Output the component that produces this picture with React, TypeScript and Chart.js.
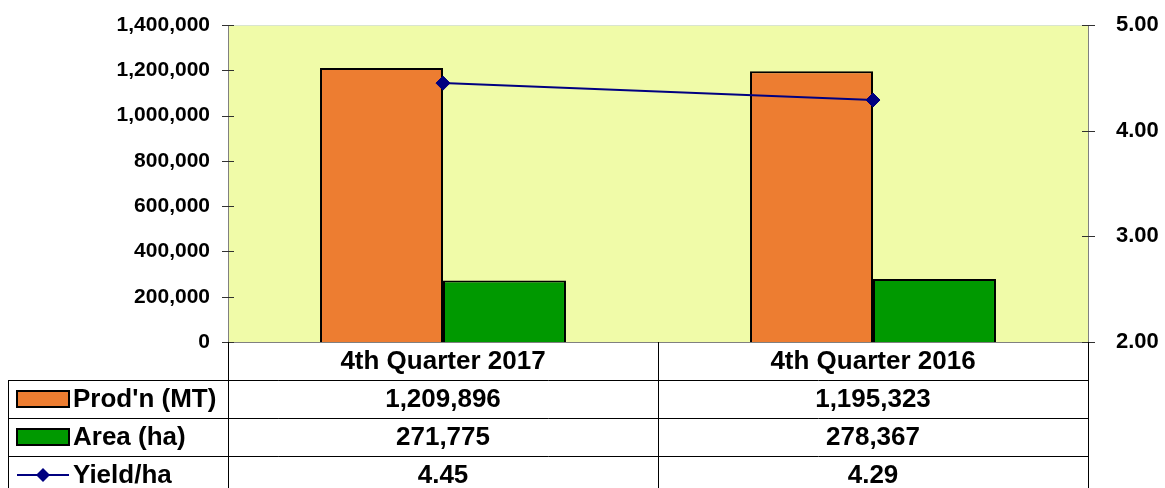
import React, { useEffect, useRef } from 'react';
import { Chart, registerables } from 'chart.js';

Chart.register(...registerables);

const categories = ['4th Quarter 2017', '4th Quarter 2016'];
const prodValues = [1209896, 1195323];
const areaValues = [271775, 278367];
const yieldValues = [4.45, 4.29];
const seriesLabels = ["Prod'n (MT)", 'Area (ha)', 'Yield/ha'];

const leftMin = 0;
const leftMax = 1400000;
const leftStep = 200000;
const rightMin = 2;
const rightMax = 5;
const rightStep = 1;

const FONT = '"Liberation Sans", Arial, sans-serif';
const PLOT_BG = '#F0FBA8';
const ORANGE = '#ED7D31';
const GREEN = '#009900';
const NAVY = '#000080';

const fmtInt = (v: number) => v.toLocaleString('en-US');
const fmtYield = (v: number) => v.toFixed(2);

const framePlugin = {
  id: 'excelFrame',
  beforeDraw(chart: any) {
    const { ctx, chartArea: a } = chart;
    ctx.save();
    ctx.fillStyle = PLOT_BG;
    ctx.fillRect(a.left, a.top, a.right - a.left, a.bottom - a.top);
    ctx.strokeStyle = '#D9E5CF';
    ctx.lineWidth = 1;
    ctx.beginPath();
    ctx.moveTo(a.left, Math.round(a.top) + 0.5);
    ctx.lineTo(a.right, Math.round(a.top) + 0.5);
    ctx.stroke();
    ctx.restore();
  },
  beforeDatasetsDraw(chart: any) {
    const { ctx, chartArea: a, scales } = chart;
    const y = scales.y;
    const y1 = scales.y1;
    ctx.save();
    ctx.lineWidth = 1;
    ctx.strokeStyle = '#808080';
    ctx.beginPath();
    ctx.moveTo(Math.round(a.left) + 0.5, a.top);
    ctx.lineTo(Math.round(a.left) + 0.5, a.bottom);
    ctx.moveTo(Math.round(a.right) + 0.5, a.top);
    ctx.lineTo(Math.round(a.right) + 0.5, a.bottom);
    ctx.moveTo(a.left, Math.round(a.bottom) + 0.5);
    ctx.lineTo(a.right, Math.round(a.bottom) + 0.5);
    ctx.stroke();
    ctx.strokeStyle = '#303030';
    ctx.beginPath();
    y.ticks.forEach((_t: any, i: number) => {
      const py = Math.round(y.getPixelForTick(i)) + 0.5;
      ctx.moveTo(a.left - 6, py);
      ctx.lineTo(a.left + 6, py);
    });
    y1.ticks.forEach((_t: any, i: number) => {
      const py = Math.round(y1.getPixelForTick(i)) + 0.5;
      ctx.moveTo(a.right - 6, py);
      ctx.lineTo(a.right + 7, py);
    });
    ctx.stroke();
    ctx.restore();
  },
  afterDraw(chart: any) {
    const { ctx, chartArea: a, scales } = chart;
    const x = scales.x;
    const tableLeft = 8;
    const rowH = 38;
    const top = Math.round(a.bottom);
    const centers = categories.map((_c, i) => x.getPixelForValue(i));
    const colBounds = [a.left, (centers[0] + centers[1]) / 2, a.right].map((v) => Math.round(v) + 0.5);
    const rowsY = [top, top + rowH, top + rowH * 2, top + rowH * 3, top + rowH * 4];

    ctx.save();
    ctx.strokeStyle = '#000000';
    ctx.lineWidth = 1;
    ctx.beginPath();
    colBounds.forEach((cx) => {
      ctx.moveTo(cx, top);
      ctx.lineTo(cx, chart.height);
    });
    ctx.moveTo(tableLeft + 0.5, rowsY[1]);
    ctx.lineTo(tableLeft + 0.5, chart.height);
    for (let r = 1; r < rowsY.length; r++) {
      ctx.moveTo(tableLeft, rowsY[r] + 0.5);
      ctx.lineTo(colBounds[2], rowsY[r] + 0.5);
    }
    ctx.stroke();

    ctx.fillStyle = '#000000';
    ctx.textAlign = 'center';
    ctx.textBaseline = 'middle';
    ctx.font = `bold 26px ${FONT}`;
    categories.forEach((c, i) => {
      ctx.fillText(c, centers[i], top + rowH / 2 + 1);
    });
    const rows = [prodValues.map(fmtInt), areaValues.map(fmtInt), yieldValues.map(fmtYield)];
    rows.forEach((vals, r) => {
      const cy = rowsY[r + 1] + rowH / 2 + 1;
      vals.forEach((v, i) => ctx.fillText(v, centers[i], cy));
    });

    const keyL = 17;
    const keyR = 69;
    seriesLabels.forEach((lbl, r) => {
      const cy = rowsY[r + 1] + rowH / 2;
      if (r < 2) {
        ctx.fillStyle = r === 0 ? ORANGE : GREEN;
        ctx.fillRect(keyL, cy - 8, keyR - keyL, 16);
        ctx.strokeStyle = '#000000';
        ctx.lineWidth = 2;
        ctx.strokeRect(keyL, cy - 8, keyR - keyL, 16);
      } else {
        ctx.strokeStyle = NAVY;
        ctx.lineWidth = 2;
        ctx.beginPath();
        ctx.moveTo(keyL, cy);
        ctx.lineTo(keyR, cy);
        ctx.stroke();
        ctx.fillStyle = NAVY;
        const mx = (keyL + keyR) / 2;
        ctx.beginPath();
        ctx.moveTo(mx, cy - 7);
        ctx.lineTo(mx + 7, cy);
        ctx.lineTo(mx, cy + 7);
        ctx.lineTo(mx - 7, cy);
        ctx.closePath();
        ctx.fill();
      }
      ctx.fillStyle = '#000000';
      ctx.textAlign = 'left';
      ctx.fillText(lbl, keyR + 4, cy + 1);
    });
    ctx.restore();
  },
};

export default function App() {
  const canvasRef = useRef<HTMLCanvasElement | null>(null);

  useEffect(() => {
    const canvas = canvasRef.current;
    if (!canvas) return;
    const chart = new Chart(canvas, {
      type: 'bar',
      data: {
        labels: categories,
        datasets: [
          {
            type: 'line',
            label: seriesLabels[2],
            data: yieldValues,
            yAxisID: 'y1',
            borderColor: NAVY,
            backgroundColor: NAVY,
            borderWidth: 2,
            pointStyle: 'rectRot',
            pointRadius: 7,
            pointBackgroundColor: NAVY,
            pointBorderColor: NAVY,
            pointBorderWidth: 1,
            order: 0,
          } as any,
          {
            type: 'bar',
            label: seriesLabels[0],
            data: prodValues,
            yAxisID: 'y',
            backgroundColor: ORANGE,
            borderColor: '#000000',
            borderWidth: 2,
            barPercentage: 1,
            categoryPercentage: 0.572,
            order: 1,
          },
          {
            type: 'bar',
            label: seriesLabels[1],
            data: areaValues,
            yAxisID: 'y',
            backgroundColor: GREEN,
            borderColor: '#000000',
            borderWidth: 2,
            barPercentage: 1,
            categoryPercentage: 0.572,
            order: 1,
          },
        ],
      },
      options: {
        responsive: false,
        animation: false,
        layout: { padding: { top: 25, bottom: 146, left: 0, right: 0 } },
        plugins: {
          legend: { display: false },
          tooltip: { enabled: false },
        },
        scales: {
          x: { display: false },
          y: {
            position: 'left',
            min: leftMin,
            max: leftMax,
            grid: { display: false, drawTicks: false },
            border: { display: false },
            ticks: {
              stepSize: leftStep,
              padding: 18,
              color: '#000000',
              font: { family: FONT, size: 21, weight: 'bold' },
              callback: (v: any) => fmtInt(Number(v)),
            },
            afterFit: (s: any) => {
              s.width = 228;
              s.paddingTop = 0;
              s.paddingBottom = 0;
            },
          },
          y1: {
            position: 'right',
            min: rightMin,
            max: rightMax,
            grid: { display: false, drawTicks: false },
            border: { display: false },
            ticks: {
              stepSize: rightStep,
              padding: 28,
              color: '#000000',
              font: { family: FONT, size: 22, weight: 'bold' },
              callback: (v: any) => fmtYield(Number(v)),
            },
            afterFit: (s: any) => {
              s.width = 77;
              s.paddingTop = 0;
              s.paddingBottom = 0;
            },
          },
        },
      },
      plugins: [framePlugin],
    });
    return () => chart.destroy();
  }, []);

  return (
    <div style={{ position: 'fixed', left: 0, top: 0, width: 1165, height: 488, background: '#ffffff' }}>
      <canvas ref={canvasRef} width={1165} height={488} style={{ display: 'block' }} />
    </div>
  );
}
